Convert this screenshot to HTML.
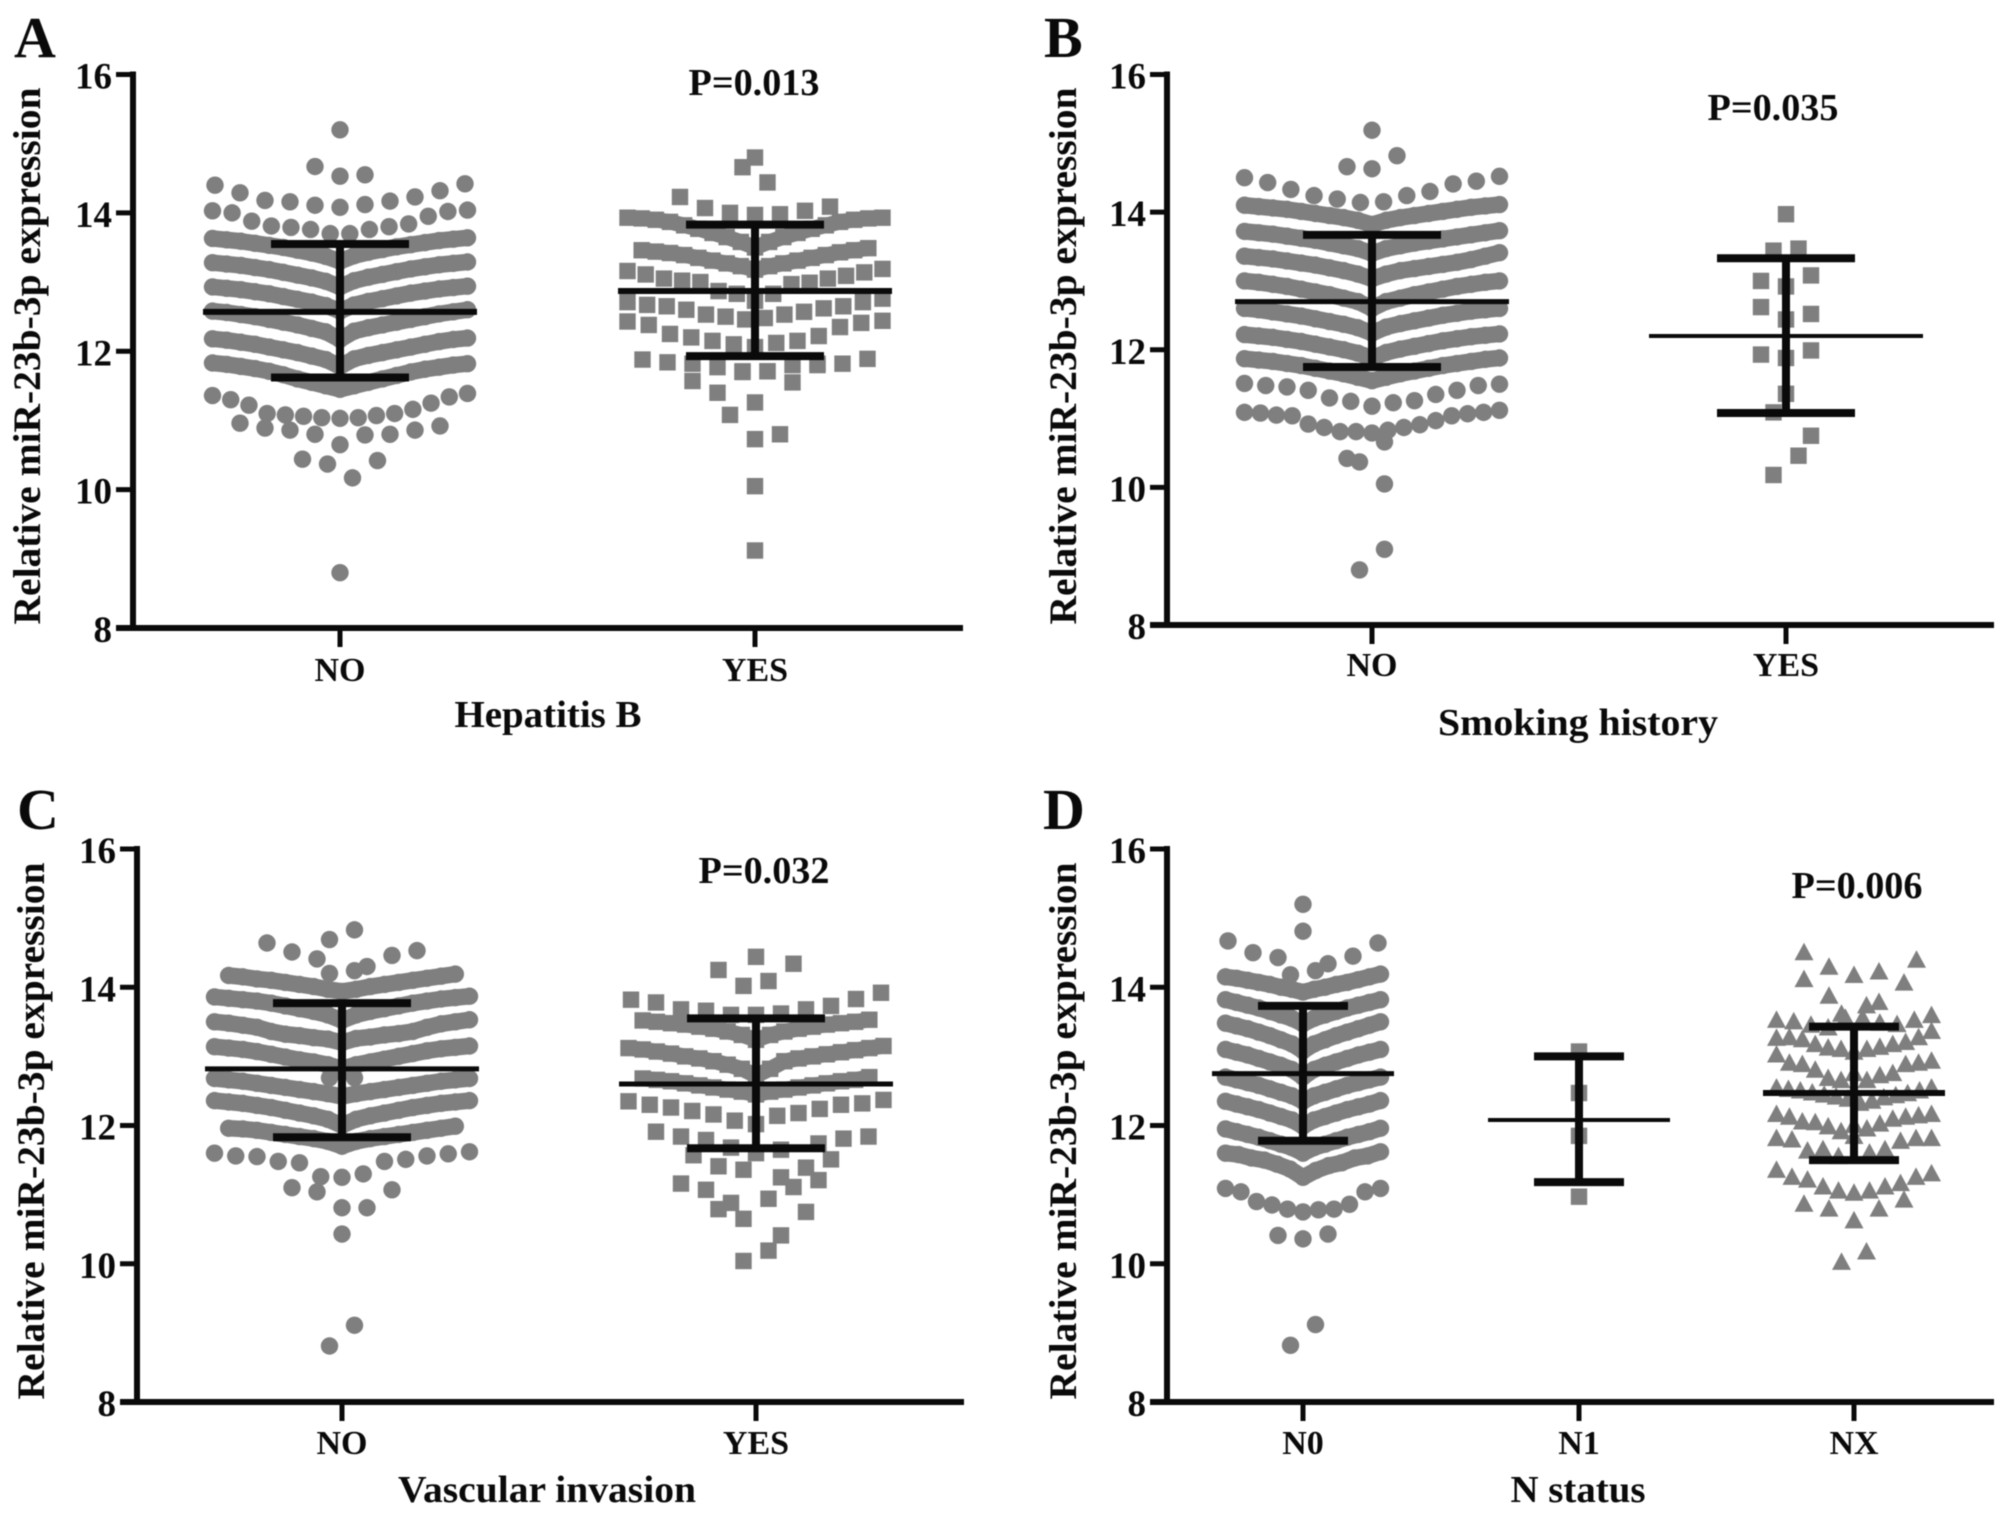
<!DOCTYPE html>
<html lang="en">
<head>
<meta charset="utf-8">
<title>Relative miR-23b-3p expression by clinical group</title>
<style>
html,body{margin:0;padding:0;background:#fff;}
svg{display:block;filter:blur(0.5px);}
text{font-family:"Liberation Serif",serif;font-weight:bold;fill:#0a0a0a;}
</style>
</head>
<body>
<svg id="figure" xmlns="http://www.w3.org/2000/svg" width="2008" height="1515" viewBox="0 0 2008 1515">
  <rect x="0" y="0" width="2008" height="1515" fill="#ffffff"/>
  <text x="14" y="57" font-size="58">A</text>
  <text x="1044" y="57" font-size="58">B</text>
  <text x="17" y="829" font-size="58">C</text>
  <text x="1043" y="829" font-size="58">D</text>

  <text transform="translate(40,356) rotate(-90)" text-anchor="middle" font-size="39" textLength="537" lengthAdjust="spacingAndGlyphs">Relative miR-23b-3p expression</text>
  <text transform="translate(1076,356) rotate(-90)" text-anchor="middle" font-size="39" textLength="537" lengthAdjust="spacingAndGlyphs">Relative miR-23b-3p expression</text>
  <text transform="translate(44,1131) rotate(-90)" text-anchor="middle" font-size="39" textLength="537" lengthAdjust="spacingAndGlyphs">Relative miR-23b-3p expression</text>
  <text transform="translate(1076,1131) rotate(-90)" text-anchor="middle" font-size="39" textLength="537" lengthAdjust="spacingAndGlyphs">Relative miR-23b-3p expression</text>

  <text x="548" y="727" text-anchor="middle" font-size="38" textLength="187" lengthAdjust="spacingAndGlyphs">Hepatitis B</text>
  <text x="1578" y="735" text-anchor="middle" font-size="38" textLength="280" lengthAdjust="spacingAndGlyphs">Smoking history</text>
  <text x="547" y="1502" text-anchor="middle" font-size="38" textLength="298" lengthAdjust="spacingAndGlyphs">Vascular invasion</text>
  <text x="1578" y="1502" text-anchor="middle" font-size="38" textLength="135" lengthAdjust="spacingAndGlyphs">N status</text>

  <g id="panels"></g>

  <text x="754" y="95" text-anchor="middle" font-size="38" textLength="131" lengthAdjust="spacingAndGlyphs">P=0.013</text>
  <text x="1773" y="120" text-anchor="middle" font-size="38" textLength="131" lengthAdjust="spacingAndGlyphs">P=0.035</text>
  <text x="764" y="883" text-anchor="middle" font-size="38" textLength="131" lengthAdjust="spacingAndGlyphs">P=0.032</text>
  <text x="1857" y="898" text-anchor="middle" font-size="38" textLength="131" lengthAdjust="spacingAndGlyphs">P=0.006</text>
</svg>

<script>
const tickLabels = [8, 10, 12, 14, 16];

const panelACategories = ['NO', 'YES'];
const panelBCategories = ['NO', 'YES'];
const panelCCategories = ['NO', 'YES'];
const panelDCategories = ['N0', 'N1', 'NX'];

/* stats: mean, upper, lower */
const aNoStats = [12.57, 13.55, 11.62];
const aYesStats = [12.87, 13.83, 11.93];
const bNoStats = [12.70, 13.67, 11.75];
const bYesStats = [12.20, 13.33, 11.08];
const cNoStats = [12.82, 13.77, 11.83];
const cYesStats = [12.60, 13.55, 11.67];
const dN0Stats = [12.75, 13.73, 11.78];
const dN1Stats = [12.08, 13.00, 11.18];
const dNxStats = [12.47, 13.43, 11.50];

/* swarm rows: values read left to right, null = empty slot in the row */
const aNoRows = [
  [15.2],
  [14.67, 14.53, 14.55],
  [14.40, 14.29, 14.18, 14.16, 14.11, 14.08, 14.12, 14.17, 14.23, 14.32, 14.42],
  [14.03, 14.00, 13.88, 13.81, 13.79, 13.76, 13.70, 13.70, 13.76, 13.80, 13.84, 13.95, 14.02, 14.04],
  [13.63, 13.61, 13.59, 13.56, 13.53, 13.50, 13.46, 13.42, 13.37, 13.30, 13.38, 13.43, 13.47, 13.51, 13.54, 13.57, 13.60, 13.62, 13.64],
  [13.28, 13.26, 13.24, 13.21, 13.18, 13.14, 13.10, 13.06, 13.01, 12.93, 13.02, 13.07, 13.11, 13.15, 13.19, 13.22, 13.25, 13.27, 13.29],
  [12.93, 12.91, 12.89, 12.86, 12.83, 12.79, 12.75, 12.71, 12.66, 12.58, 12.67, 12.72, 12.76, 12.80, 12.84, 12.87, 12.90, 12.92, 12.94],
  [12.58, 12.56, 12.53, 12.50, 12.46, 12.42, 12.38, 12.33, 12.28, 12.17, 12.29, 12.34, 12.38, 12.42, 12.46, 12.50, 12.54, 12.57, 12.60],
  [12.18, 12.16, 12.13, 12.10, 12.06, 12.02, 11.98, 11.93, 11.88, 11.78, 11.89, 11.94, 11.98, 12.02, 12.06, 12.10, 12.14, 12.17, 12.19],
  [11.83, 11.81, 11.78, 11.75, 11.71, 11.66, 11.60, 11.55, 11.50, 11.45, 11.50, 11.55, 11.60, 11.65, 11.70, 11.74, 11.77, 11.80, 11.82],
  [11.36, 11.30, 11.22, 11.10, 11.08, 11.06, 11.04, 11.03, 11.04, 11.07, 11.10, 11.16, 11.25, 11.34, 11.39],
  [10.96, 10.89, 10.86, 10.80, 10.65, 10.79, 10.80, 10.86, 10.92],
  [10.44, 10.37, 10.17, 10.42],
  [8.8]
];
const aYesRows = [
  [14.80],
  [14.66, 14.44],
  [14.23, 14.07, 14.00, 13.97, 13.98, 14.03, 14.09],
  [13.93, 13.92, 13.90, 13.87, 13.82, 13.77, 13.71, 13.65, 13.58, 13.50, 13.58, 13.65, 13.71, 13.77, 13.82, 13.87, 13.90, 13.92, 13.93],
  [null, 13.46, 13.44, 13.42, 13.39, 13.35, 13.31, 13.27, 13.23, 13.18, 13.23, 13.27, 13.31, 13.35, 13.39, 13.43, 13.46, 13.49, null],
  [13.16, 13.11, 13.05, 13.02, 13.00, 12.87, 12.83, 12.73, 12.83, 12.97, 12.99, 13.05, 13.09, 13.14, 13.19],
  [12.71, 12.67, 12.65, 12.60, 12.53, 12.50, 12.46, 12.48, 12.53, 12.57, 12.62, 12.65, 12.71, 12.76],
  [12.43, 12.38, 12.25, 12.20, 12.15, 12.10, 12.06, 12.12, 12.15, 12.22, 12.35, 12.41, 12.44],
  [11.88, 11.84, 11.82, 11.77, 11.71, 11.71, 11.80, 11.82, 11.82, 11.89],
  [11.57, 11.40, 11.70, 11.71, 11.55, 11.80],
  [11.08, 11.26, 10.80],
  [10.73],
  [10.05],
  [9.12]
];
const bNoRows = [
  [15.19],
  [14.66, 14.63, 14.82],
  [14.50, 14.43, 14.33, 14.24, 14.19, 14.14, 14.15, 14.24, 14.30, 14.41, 14.45, 14.52],
  [14.10, 14.08, 14.06, 14.04, 14.01, 13.98, 13.95, 13.92, 13.88, 13.82, 13.88, 13.92, 13.95, 13.98, 14.01, 14.04, 14.07, 14.09, 14.11],
  [13.72, 13.70, 13.68, 13.65, 13.62, 13.59, 13.55, 13.51, 13.47, 13.40, 13.47, 13.51, 13.55, 13.58, 13.61, 13.64, 13.67, 13.70, 13.73],
  [13.36, 13.34, 13.32, 13.29, 13.26, 13.23, 13.19, 13.15, 13.10, 13.03, 13.10, 13.15, 13.18, 13.21, 13.24, 13.27, 13.31, 13.36, 13.41],
  [13.00, 12.98, 12.95, 12.92, 12.88, 12.84, 12.80, 12.75, 12.70, 12.60, 12.70, 12.75, 12.80, 12.84, 12.88, 12.92, 12.95, 12.98, 13.00],
  [12.60, 12.58, 12.55, 12.52, 12.49, 12.45, 12.41, 12.37, 12.32, 12.24, 12.33, 12.38, 12.42, 12.46, 12.50, 12.53, 12.56, 12.58, 12.60],
  [12.22, 12.20, 12.18, 12.15, 12.12, 12.08, 12.04, 12.00, 11.95, 11.88, 11.96, 12.01, 12.05, 12.09, 12.13, 12.16, 12.19, 12.21, 12.23],
  [11.87, 11.85, 11.83, 11.80, 11.77, 11.73, 11.69, 11.65, 11.60, 11.55, 11.60, 11.65, 11.69, 11.73, 11.77, 11.80, 11.83, 11.86, 11.88],
  [11.51, 11.48, 11.46, 11.41, 11.30, 11.25, 11.18, 11.23, 11.26, 11.35, 11.41, 11.48, 11.50],
  [11.09, 11.08, 11.05, 11.04, 10.92, 10.87, 10.81, 10.81, 10.79, 10.83, 10.87, 10.91, 10.97, 11.04, 11.07, 11.09, 11.12],
  [10.42, null, null],
  [10.37, 10.66],
  [null, 10.05],
  [null, 9.10],
  [8.80, null]
];
const bYesRows = [
  [13.97],
  [13.44, 13.47],
  [13.00, 12.92, 13.08],
  [12.62, 12.44, 12.52],
  [11.93, 11.88, 11.99],
  [11.36],
  [11.09, 10.46],
  [null, null, 10.75],
  [10.18, null]
];
const cNoRows = [
  [14.64, 14.51, 14.41, null, 14.30, 14.46, 14.53],
  [14.69, 14.83],
  [14.20, 14.24],
  [null, 14.17, 14.15, 14.12, 14.10, 14.07, 14.04, 14.01, 13.97, 13.94, 13.97, 14.01, 14.04, 14.07, 14.10, 14.13, 14.16, 14.19, null],
  [13.86, 13.84, 13.82, 13.80, 13.77, 13.73, 13.69, 13.65, 13.60, 13.52, 13.60, 13.65, 13.69, 13.73, 13.77, 13.80, 13.83, 13.85, 13.87],
  [13.50, 13.48, 13.45, 13.42, 13.36, 13.32, 13.30, 13.27, 13.25, 13.20, 13.26, 13.28, 13.31, 13.33, 13.36, 13.42, 13.47, 13.50, 13.53],
  [13.14, 13.12, 13.10, 13.07, 13.03, 12.99, 12.95, 12.92, 12.88, 12.82, 12.88, 12.92, 12.96, 13.00, 13.04, 13.08, 13.11, 13.13, 13.15],
  [12.69, 12.69],
  [12.68, 12.66, 12.64, 12.61, 12.58, 12.55, 12.52, 12.49, 12.46, 12.42, 12.46, 12.49, 12.52, 12.55, 12.58, 12.61, 12.64, 12.66, 12.68],
  [12.36, 12.34, 12.32, 12.29, 12.26, 12.22, 12.18, 12.14, 12.09, 12.00, 12.09, 12.14, 12.18, 12.22, 12.26, 12.29, 12.32, 12.34, 12.36],
  [null, 11.96, 11.95, 11.93, 11.90, 11.87, 11.84, 11.81, 11.77, 11.70, 11.77, 11.81, 11.84, 11.87, 11.90, 11.93, 11.96, 11.99, null],
  [11.60, 11.56, 11.55, 11.48, 11.46, 11.26, 11.25, 11.30, 11.48, 11.51, 11.56, 11.59, 11.62],
  [11.10, 11.04, 10.81, 10.81, 11.07],
  [10.43],
  [null, 9.11],
  [8.81, null]
];
const cYesRows = [
  [14.44],
  [14.25, 14.02, 14.09, 14.34],
  [13.82, 13.78, 13.68, 13.66, 13.60, 13.60, 13.62, 13.68, 13.73, 13.83, 13.92],
  [null, 13.52, 13.50, 13.48, 13.46, 13.43, 13.40, 13.36, 13.31, 13.24, 13.31, 13.36, 13.40, 13.43, 13.46, 13.48, 13.50, 13.53, null],
  [13.12, 13.10, 13.07, 13.04, 13.00, 12.97, 12.93, 12.88, 12.82, 12.72, 12.82, 12.93, 12.97, 13.00, 13.03, 13.06, 13.09, 13.12, 13.15],
  [null, 12.68, 12.66, 12.64, 12.61, 12.58, 12.55, 12.52, 12.49, 12.45, 12.49, 12.52, 12.55, 12.58, 12.61, 12.64, 12.66, 12.70, null],
  [12.35, 12.30, 12.26, 12.21, 12.16, 12.07, 12.02, 12.14, 12.18, 12.24, 12.30, 12.32, 12.37],
  [11.91, 11.84, 11.79, 11.68, 11.60, 11.65, null, 11.51, null],
  [null, null, 11.57, 11.41, 11.36, 10.94, 11.11, 11.74, 11.81, 11.84],
  [11.16, 11.07, 10.88, null, 11.25, 11.39, null],
  [null, 10.79, 10.65, null, null, 11.21],
  [null, null, null, null, 10.75],
  [10.04, 10.19],
  [null, null, 10.41]
];
const dN0Rows = [
  [15.20],
  [14.81],
  [14.67, 14.50, 14.43, null, 14.34, 14.45, 14.64],
  [14.18, 14.24],
  [14.15, 14.13, 14.10, 14.07, 14.04, 14.00, 13.97, 13.93, 13.97, 14.00, 14.04, 14.07, 14.11, 14.15, 14.19],
  [13.82, 13.78, 13.74, 13.70, 13.65, 13.60, 13.55, 13.47, 13.55, 13.60, 13.65, 13.70, 13.74, 13.78, 13.82],
  [13.48, 13.44, 13.40, 13.35, 13.30, 13.24, 13.18, 13.08, 13.18, 13.24, 13.30, 13.35, 13.40, 13.45, 13.50],
  [13.10, 13.06, 13.02, 12.97, 12.92, 12.87, 12.81, 12.70, 12.81, 12.87, 12.92, 12.97, 13.02, 13.06, 13.10],
  [12.70, 12.66, 12.62, 12.58, 12.53, 12.48, 12.43, 12.35, 12.43, 12.48, 12.53, 12.58, 12.62, 12.66, 12.70],
  [12.35, 12.31, 12.27, 12.23, 12.18, 12.13, 12.08, 11.99, 12.08, 12.13, 12.18, 12.23, 12.27, 12.31, 12.36],
  [11.95, 11.91, 11.87, 11.83, 11.78, 11.73, 11.68, 11.60, 11.68, 11.73, 11.78, 11.83, 11.87, 11.91, 11.96],
  [11.60, 11.58, 11.53, 11.50, 11.44, 11.37, 11.25, 11.35, 11.42, 11.46, 11.53, 11.56, 11.62],
  [11.09, 11.04, 10.90, 10.85, 10.79, 10.75, 10.78, 10.79, 10.86, 11.04, 11.09],
  [10.41, 10.36, 10.43],
  [8.82, 9.12]
];
const dN1Rows = [
  [13.07],
  [12.47],
  [11.85],
  [10.97]
];
const dNxRows = [
  [14.50, 14.29, 14.17, 14.22, 14.06],
  [14.11, 13.87, null, 13.78, null],
  [null, null, 13.61, 13.73, null, 14.39],
  [13.52, 13.50, 13.45, 13.41, 13.55, 13.55, 13.48, 13.46, 13.52, 13.59],
  [13.26, 13.27, 13.24, 13.17, 13.12, 13.10, 13.06, 13.10, 13.13, 13.17, 13.20, 13.27, 13.36],
  [13.02, 12.90, 12.88, 12.80, 12.68, 12.65, 12.75, 12.65, 12.72, 12.75, 12.88, 12.90, 12.93],
  [12.54, 12.52, 12.50, 12.47, 12.44, 12.41, 12.38, 12.32, 12.35, 12.40, 12.43, 12.46, 12.50, 12.54],
  [12.16, 12.12, 12.05, 12.04, 11.98, 11.91, 12.00, 11.95, 12.02, 12.09, 12.12, 12.14, 12.16],
  [11.81, 11.79, 11.63, 11.65, 11.55, 11.84, 11.60, 11.65, 11.77, 11.81, 11.81],
  [11.35, 11.25, 11.21, 11.11, 11.05, 11.02, 11.05, 11.11, 11.16, 11.25, 11.30],
  [10.86, 10.79, 10.62, 10.79, 10.92],
  [10.02, 10.17]
];

const NS = 'http://www.w3.org/2000/svg';
const GREY = '#7f7f7f';
const INK = '#0a0a0a';

function svgEl(tag, attrs) {
  const el = document.createElementNS(NS, tag);
  for (const k in attrs) el.setAttribute(k, attrs[k]);
  return el;
}

function addLine(parent, x1, y1, x2, y2, w, name) {
  const el = svgEl('line', { x1: x1, y1: y1, x2: x2, y2: y2, stroke: INK, 'stroke-width': w });
  
  
  parent.appendChild(el);
}

function addLabel(parent, x, y, text, anchor, size, name) {
  const el = svgEl('text', { x: x, y: y, 'text-anchor': anchor, 'font-size': size });
  el.textContent = text;
  
  
  parent.appendChild(el);
}

function addMarker(parent, shape, x, y) {
  let el;
  if (shape === 'circle') {
    el = svgEl('circle', { cx: x, cy: y, r: 8.7, fill: GREY });
  } else if (shape === 'square') {
    el = svgEl('rect', { x: x - 8.2, y: y - 8.2, width: 16.4, height: 16.4, fill: GREY });
  } else {
    el = svgEl('polygon', { points: (x) + ',' + (y - 10) + ' ' + (x - 9.5) + ',' + (y + 7.5) + ' ' + (x + 9.5) + ',' + (y + 7.5), fill: GREY });
  }
  
  
  parent.appendChild(el);
}

/* Overlapping points of a crowded swarm row merge into a solid band */
function addBand(parent, shape, pts) {
  const el = svgEl('polyline', {
    points: pts.map(function (p) { return p[0] + ',' + p[1]; }).join(' '),
    fill: 'none',
    stroke: GREY,
    'stroke-width': shape === 'circle' ? 16.5 : 15.5,
    'stroke-linejoin': 'round',
    'stroke-linecap': 'round'
  });
  
  
  parent.appendChild(el);
}

function drawPanel(p) {
  const root = document.getElementById('panels');
  const g = svgEl('g', {});
  
  
  root.appendChild(g);

  const yScale = function (v) { return p.y8 - (v - 8) * (p.y8 - p.y16) / 8; };

  p.groups.forEach(function (grp, gi) {
    const cx = p.centers[gi];
    const layer = svgEl('g', {});
    
    
    g.appendChild(layer);

    grp.rows.forEach(function (row) {
      const n = row.length;
      const step = n > 1 ? Math.min(grp.cap, grp.width / (n - 1)) : 0;
      const pts = [];
      row.forEach(function (v, i) {
        if (v === null) return;
        const x = cx + (i - (n - 1) / 2) * step;
        const y = yScale(v);
        pts.push([x, y]);
        addMarker(layer, grp.shape, x, y);
      });
      if (grp.shape !== 'triangle' && step > 0 && step < 15 && pts.length > 10) {
        addBand(layer, grp.shape, pts);
      }
    });

    const mean = grp.stats[0], upper = grp.stats[1], lower = grp.stats[2];
    addLine(g, cx, yScale(upper), cx, yScale(lower), 8, 'error-bar-stem');
    addLine(g, cx - grp.capHalf, yScale(upper), cx + grp.capHalf, yScale(upper), 8, 'error-bar-upper-cap');
    addLine(g, cx - grp.capHalf, yScale(lower), cx + grp.capHalf, yScale(lower), 8, 'error-bar-lower-cap');
    addLine(g, cx - grp.meanHalf, yScale(mean), cx + grp.meanHalf, yScale(mean), grp.meanW, 'mean-line');
  });

  addLine(g, p.axisX, p.y16 - 3, p.axisX, p.y8 + 3, 6, 'y-axis-line');
  addLine(g, p.axisX - 17, p.y8, p.xEnd, p.y8, 6, 'x-axis-line');

  tickLabels.forEach(function (t) {
    const y = yScale(t);
    addLine(g, p.axisX - 17, y, p.axisX, y, 5, 'y-axis-tick');
    addLabel(g, p.axisX - 21, y + 14, String(t), 'end', 37, 'y-tick-label');
  });

  p.categories.forEach(function (c, i) {
    const x = p.centers[i];
    addLine(g, x, p.y8, x, p.y8 + 19, 5, 'x-axis-tick');
    addLabel(g, x, p.labelY, c, 'middle', 34, 'x-tick-label');
  });
}

const wide = { cap: 25, width: 255, capHalf: 69, meanHalf: 137, meanW: 6 };
const narrow = { cap: 25, width: 155, capHalf: 45, meanHalf: 91, meanW: 6 };

function grp(base, rows, stats, shape, meanW) {
  return { cap: base.cap, width: base.width, capHalf: base.capHalf, meanHalf: base.meanHalf, meanW: meanW, rows: rows, stats: stats, shape: shape };
}

drawPanel({
  id: 'a', axisX: 133, y16: 74.5, y8: 628, xEnd: 963, labelY: 681,
  centers: [340, 755], categories: panelACategories,
  groups: [grp(wide, aNoRows, aNoStats, 'circle', 6), grp(wide, aYesRows, aYesStats, 'square', 6)]
});
drawPanel({
  id: 'b', axisX: 1167, y16: 74.5, y8: 625, xEnd: 1994, labelY: 676,
  centers: [1372, 1786], categories: panelBCategories,
  groups: [grp(wide, bNoRows, bNoStats, 'circle', 5), grp(wide, bYesRows, bYesStats, 'square', 4)]
});
drawPanel({
  id: 'c', axisX: 137, y16: 849, y8: 1402, xEnd: 964, labelY: 1454,
  centers: [342, 756], categories: panelCCategories,
  groups: [grp(wide, cNoRows, cNoStats, 'circle', 5), grp(wide, cYesRows, cYesStats, 'square', 5)]
});
drawPanel({
  id: 'd', axisX: 1167, y16: 849, y8: 1402, xEnd: 1994, labelY: 1454,
  centers: [1303, 1579, 1854], categories: panelDCategories,
  groups: [grp(narrow, dN0Rows, dN0Stats, 'circle', 5), grp(narrow, dN1Rows, dN1Stats, 'square', 4), grp(narrow, dNxRows, dNxStats, 'triangle', 6)]
});
</script>
</body>
</html>
